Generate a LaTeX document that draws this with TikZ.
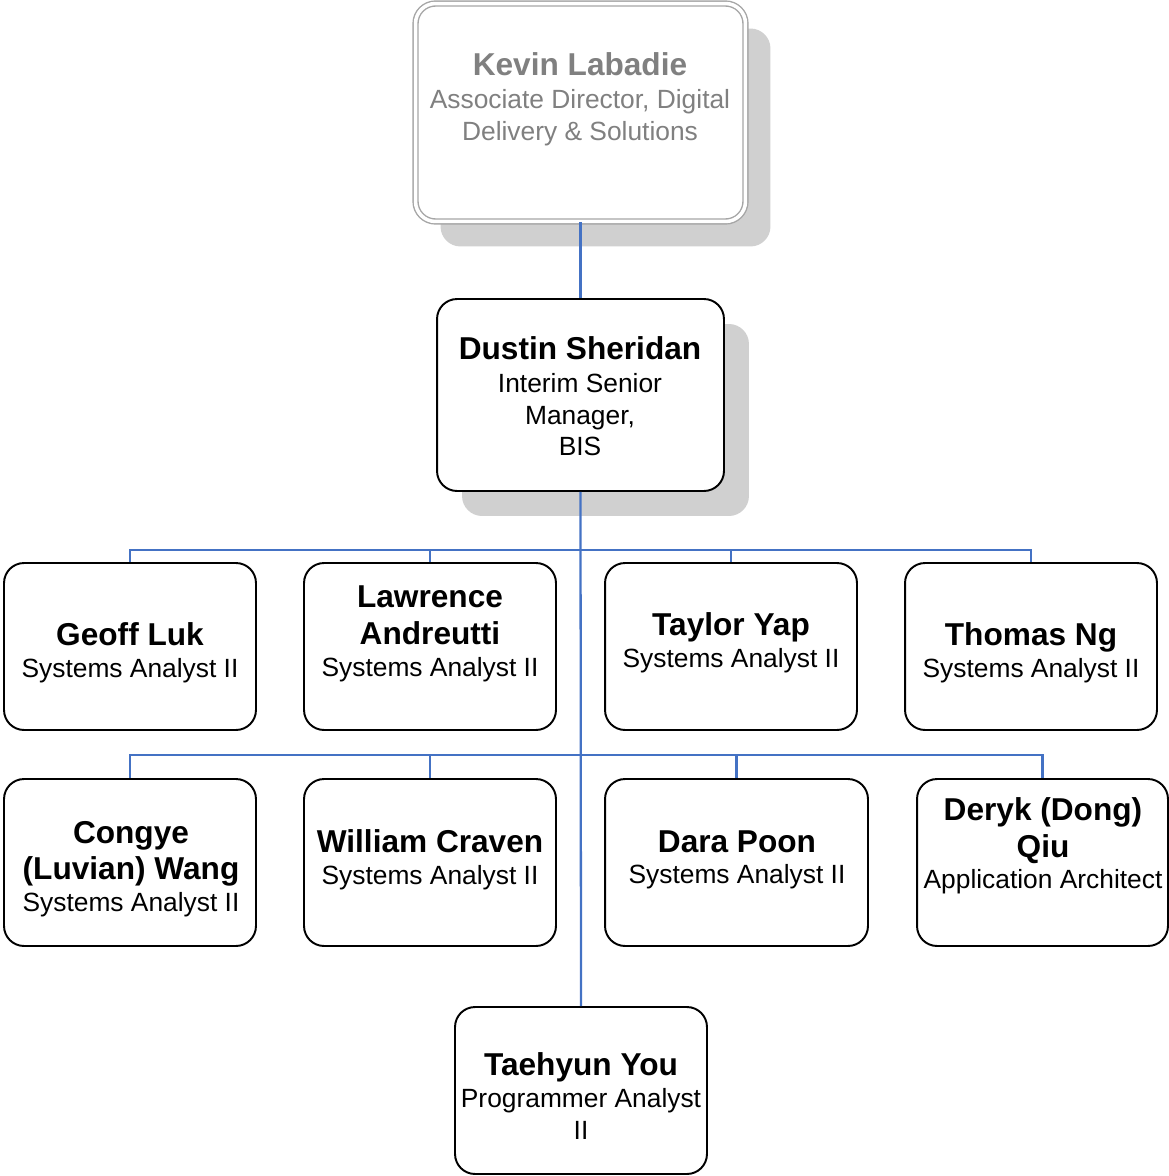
\documentclass[tikz,border=0pt]{standalone}
\usepackage{fontspec}
\setmainfont{Liberation Sans}
\usetikzlibrary{shadows}
\definecolor{linkblue}{HTML}{4472C4}
\definecolor{greytext}{HTML}{808080}
\definecolor{greyline}{HTML}{A6A6A6}
\definecolor{shadowgrey}{HTML}{D0D0D0}
\tikzset{
	card/.style={draw, line width=1.1pt, rounded corners=0.4cm, fill=white, minimum width=5.04cm, minimum height=3.34cm, inner sep=0pt},
	cardshadow/.style={drop shadow={shadow xshift=0.5cm, shadow yshift=-0.5cm, fill=shadowgrey, opacity=1}},
	cardtext/.style={align=center, font=\fontsize{15}{18}\selectfont, inner sep=0pt},
	link/.style={draw=linkblue, line width=1.3pt}
}
\newcommand{\who}[1]{{\fontsize{18}{22}\selectfont\bfseries #1}}
\begin{document}
\begin{tikzpicture}[x=0.02cm, y=-0.02cm]

		\useasboundingbox (0,0) rectangle (1169,1176);

		% boxes
		\node[card, cardshadow, draw=greyline, line width=0.8pt, double=white, double distance=2pt, minimum width=6.6cm, minimum height=4.36cm] (kevin) at (580.5,112.5) {};
		\node[card, cardshadow, minimum width=5.74cm, minimum height=3.84cm] (dustin) at (580.5,395) {};

		\node[card] (geoff) at (130,646.5) {};
		\node[card] (lawrence) at (430,646.5) {};
		\node[card] (taylor) at (731,646.5) {};
		\node[card] (thomas) at (1031,646.5) {};

		\node[card] (congye) at (130,862.5) {};
		\node[card] (william) at (430,862.5) {};
		\node[card, minimum width=5.26cm] (dara) at (736.5,862.5) {};
		\node[card, minimum width=5.02cm] (deryk) at (1042.5,862.5) {};

		\node[card] (taehyun) at (581,1090.5) {};

		% texts
		\node[cardtext, text=greytext] (kevintext) at (580,99) {\who{Kevin Labadie}\\[1pt]Associate Director, Digital\\Delivery \& Solutions};
		\node[cardtext] (dustintext) at (580,396) {\who{Dustin Sheridan}\\[1pt]Interim Senior\\Manager,\\BIS};

		\node[cardtext] (geofftext) at (130,653) {\who{Geoff Luk}\\Systems Analyst II};
		\node[cardtext] (lawrencetext) at (430,634) {\who{Lawrence}\\[3pt]\who{Andreutti}\\Systems Analyst II};
		\node[cardtext] (taylortext) at (731,643) {\who{Taylor Yap}\\Systems Analyst II};
		\node[cardtext] (thomastext) at (1031,653) {\who{Thomas Ng}\\Systems Analyst II};

		\node[cardtext] (congyetext) at (131,869) {\who{Congye}\\[3pt]\who{(Luvian) Wang}\\ Systems Analyst II};
		\node[cardtext] (williamtext) at (430,860) {\who{William Craven}\\Systems Analyst II};
		\node[cardtext] (daratext) at (737,860) {\who{Dara Poon}\\Systems Analyst II};
		\node[cardtext] (deryktext) at (1043,846) {\who{Deryk (Dong)}\\[3pt]\who{Qiu}\\Application Architect};

		\node[cardtext] (taehyuntext) at (581,1096) {\who{Taehyun You}\\Programmer Analyst\\II};

		% links
		\coordinate (busone) at (580,550);
		\coordinate (bustwo) at (580,755);

		\draw[link] (kevin.south) -- (dustin.north);
		\draw[link] (dustin.south) -- (taehyun.north);

		\draw[link] (busone) -| (geoff.north);
		\draw[link] (busone) -| (lawrence.north);
		\draw[link] (busone) -| (taylor.north);
		\draw[link] (busone) -| (thomas.north);

		\draw[link] (bustwo) -| (congye.north);
		\draw[link] (bustwo) -| (william.north);
		\draw[link] (bustwo) -| (dara.north);
		\draw[link] (bustwo) -| (deryk.north);

	\end{tikzpicture}
\end{document}
